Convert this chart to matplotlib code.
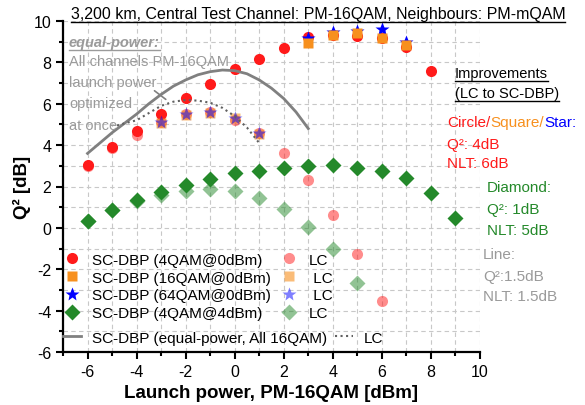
import matplotlib
matplotlib.use("Agg")
from matplotlib import pyplot as plt
from matplotlib.lines import Line2D
from matplotlib.ticker import MultipleLocator

plt.rcParams['font.family'] = ['Liberation Sans', 'DejaVu Sans']
plt.rcParams['axes.unicode_minus'] = False

# SC-DBP, 4QAM neighbours @0dBm (circles)
x_c = [-6, -5, -4, -3, -2, -1, 0, 1, 2, 3, 4, 5, 6, 7, 8]
q_c = [3.05, 3.9, 4.7, 5.5, 6.3, 6.95, 7.67, 8.15, 8.7, 9.22, 9.3, 9.27, 9.2, 8.75, 7.6]
# SC-DBP, 16QAM / 64QAM neighbours (squares / stars)
x_s = [3, 4, 5, 6, 7]
q_s = [8.93, 9.34, 9.42, 9.2, 8.85]
q_st = [9.17, 9.45, 9.52, 9.6, 8.98]
# SC-DBP, 4QAM @4dBm (diamonds)
x_d = [-6, -5, -4, -3, -2, -1, 0, 1, 2, 3, 4, 5, 6, 7, 8, 9]
q_d = [0.35, 0.85, 1.33, 1.73, 2.09, 2.38, 2.65, 2.77, 2.91, 3.0, 3.03, 2.91, 2.73, 2.41, 1.68, 0.47]

# LC
x_lc_c = [-6, -5, -4, -3, -2, -1, 0, 1, 2, 3, 4, 5, 6]
q_lc_c = [3.0, 3.85, 4.5, 5.1, 5.5, 5.6, 5.2, 4.6, 3.64, 2.3, 0.63, -1.26, -3.53]
x_lc_s = [-3, -2, -1, 0, 1]
q_lc_s = [5.05, 5.45, 5.55, 5.3, 4.55]
q_lc_st = [5.1, 5.5, 5.6, 5.3, 4.6]
x_lc_d = [-6, -5, -4, -3, -2, -1, 0, 1, 2, 3, 4, 5]
q_lc_d = [0.35, 0.85, 1.3, 1.6, 1.76, 1.86, 1.76, 1.44, 0.89, 0.03, -1.02, -2.67]

# equal-power curves
x_eq = [-6, -5.5, -5, -4.5, -4, -3.5, -3, -2.5, -2, -1.5, -1, -0.5, 0, 0.5, 1, 1.5, 2, 2.5, 3]
q_eq = [3.6, 4.1, 4.6, 5.05, 5.5, 6.0, 6.45, 6.85, 7.15, 7.4, 7.55, 7.63, 7.6, 7.45, 7.15, 6.75, 6.25, 5.6, 4.8]
x_eq_lc = [-4.8, -4.5, -4, -3.5, -3, -2.5, -2, -1.5, -1, -0.5, 0, 0.5, 1]
q_eq_lc = [4.95, 5.05, 5.2, 5.55, 5.9, 6.1, 6.18, 6.15, 6.05, 5.8, 5.4, 4.85, 4.1]

RED = '#ff1a1a'
ORANGE = '#f7901e'
BLUE = '#0000ff'
GREEN = '#24892a'
GRAY = '#808080'
TGRAY = '#9a9a9a'
A = 0.5

W, H = 585, 406
fig = plt.figure(figsize=(W / 100, H / 100), dpi=100)
ax = fig.add_axes([63 / W, 1 - 353 / H, 417 / W, 331 / H])

h1, = ax.plot(x_c, q_c, 'o', color=RED, ms=8, mec='none', label='SC-DBP (4QAM@0dBm)')
h3, = ax.plot(x_s, q_st, '*', color=BLUE, ms=10, mec='none', label='SC-DBP (64QAM@0dBm)')
h2, = ax.plot(x_s, q_s, 's', color=ORANGE, ms=7.5, mec='none', label='SC-DBP (16QAM@0dBm)')
h4, = ax.plot(x_d, q_d, 'D', color=GREEN, ms=8, mec='none', label='SC-DBP (4QAM@4dBm)')
l1, = ax.plot(x_lc_c, q_lc_c, 'o', color=RED, alpha=A, ms=8, mec='none', label='LC')
l2, = ax.plot(x_lc_s, q_lc_s, 's', color=ORANGE, alpha=0.6, ms=7.5, mec='none', label=' LC')
l3, = ax.plot(x_lc_s, q_lc_st, '*', color=BLUE, alpha=A, ms=10, mec='none', label=' LC')
l4, = ax.plot(x_lc_d, q_lc_d, 'D', color=GREEN, alpha=A, ms=8, mec='none', label='LC')
e1, = ax.plot(x_eq, q_eq, '-', color=GRAY, lw=2, label='SC-DBP (equal-power, All 16QAM)')
e2, = ax.plot(x_eq_lc, q_eq_lc, ':', color='#606060', lw=1.5, label='LC')

ax.set_xlim(-7, 10)
ax.set_ylim(-6, 10)
ax.xaxis.set_major_locator(MultipleLocator(2))
ax.xaxis.set_minor_locator(MultipleLocator(1))
ax.yaxis.set_major_locator(MultipleLocator(2))
ax.yaxis.set_minor_locator(MultipleLocator(1))
ax.grid(True, which='both', color='#c8c8c8', ls=(0, (4, 3)), lw=0.8)
ax.set_axisbelow(True)
for s in ['top', 'right']:
    ax.spines[s].set_visible(False)
for s in ['left', 'bottom']:
    ax.spines[s].set_linewidth(1.6)
ax.tick_params(which='major', direction='out', length=5, width=1.5, labelsize=11.5)
ax.tick_params(which='minor', direction='out', length=3, width=1.5)

ax.set_xlabel('Launch power, PM-16QAM [dBm]', fontsize=13.5, fontweight='bold', labelpad=4)
ax.set_ylabel('Q² [dB]', fontsize=13.5, fontweight='bold', labelpad=2)

leg = ax.legend(handles=[h1, h2, h3, h4, l1, l2, l3, l4], ncol=2, loc='upper left',
                bbox_to_anchor=(0.0, 0.3), frameon=False, fontsize=11,
                handlelength=1.2, handletextpad=0.7, columnspacing=0.6,
                labelspacing=0.25, borderpad=0, borderaxespad=0)
ax.add_artist(leg)
ax.legend(handles=[e1, e2], ncol=2, loc='upper left', bbox_to_anchor=(0.0, 0.064),
          frameon=False, fontsize=11, handlelength=1.2, handletextpad=0.7,
          columnspacing=0.5, borderpad=0, borderaxespad=0)


def fx(px):
    return px / W


def fy(py):
    return 1 - py / H


under = []
t = fig.text(fx(318), fy(15), '3,200 km, Central Test Channel: PM-16QAM, Neighbours: PM-mQAM',
             ha='center', va='center', fontsize=11.5)
under.append((t, 'black'))

t = fig.text(fx(69), fy(43), 'equal-power:', fontsize=10.5, color=TGRAY, fontweight='bold',
             style='italic', va='center')
under.append((t, TGRAY))
for txt, py in [('All channels PM-16QAM', 62), ('launch power', 83),
                ('optimized', 104), ('at once', 126)]:
    fig.text(fx(69), fy(py), txt, fontsize=10.5, color=TGRAY, va='center')
ax.annotate('', xy=(-2.72, 6.13), xytext=(-3.36, 6.71),
            arrowprops=dict(arrowstyle='-', color=GRAY, lw=1.2))

t = fig.text(fx(455), fy(74), 'Improvements', fontsize=10.5, va='center')
under.append((t, 'black'))
t = fig.text(fx(455), fy(94), '(LC to SC-DBP)', fontsize=10.5, va='center')
under.append((t, 'black'))

# multi-coloured heading, each piece placed after the previous one
prev = None
for txt, col in [('Circle/', RED), ('Square/', ORANGE), ('Star:', BLUE)]:
    if prev is None:
        prev = fig.text(fx(447), fy(123), txt, fontsize=11, color=col, va='center')
    else:
        prev = ax.annotate(txt, xy=(1, 0), xycoords=prev, fontsize=11, color=col,
                           ha='left', va='bottom', annotation_clip=False)

for txt, py in [('Q²: 4dB', 145), ('NLT: 6dB', 164)]:
    fig.text(fx(447), fy(py), txt, fontsize=11, color=RED, va='center')
for txt, py in [('Diamond:', 188), ('Q²: 1dB', 210), ('NLT: 5dB', 231)]:
    fig.text(fx(487), fy(py), txt, fontsize=11, color=GREEN, va='center')
for txt, py in [('Line:', 255), ('Q²:1.5dB', 277), ('NLT: 1.5dB', 297)]:
    fig.text(fx(483), fy(py), txt, fontsize=11, color=TGRAY, va='center')

fig.canvas.draw()
inv = fig.transFigure.inverted()
for t, col in under:
    bb = t.get_window_extent()
    (x0, y0), (x1, _) = inv.transform([(bb.x0, bb.y0 - 0.5), (bb.x1, bb.y1)])
    fig.add_artist(Line2D([x0, x1], [y0, y0], color=col, lw=1, transform=fig.transFigure))

fig.savefig('out.png', dpi=100)
